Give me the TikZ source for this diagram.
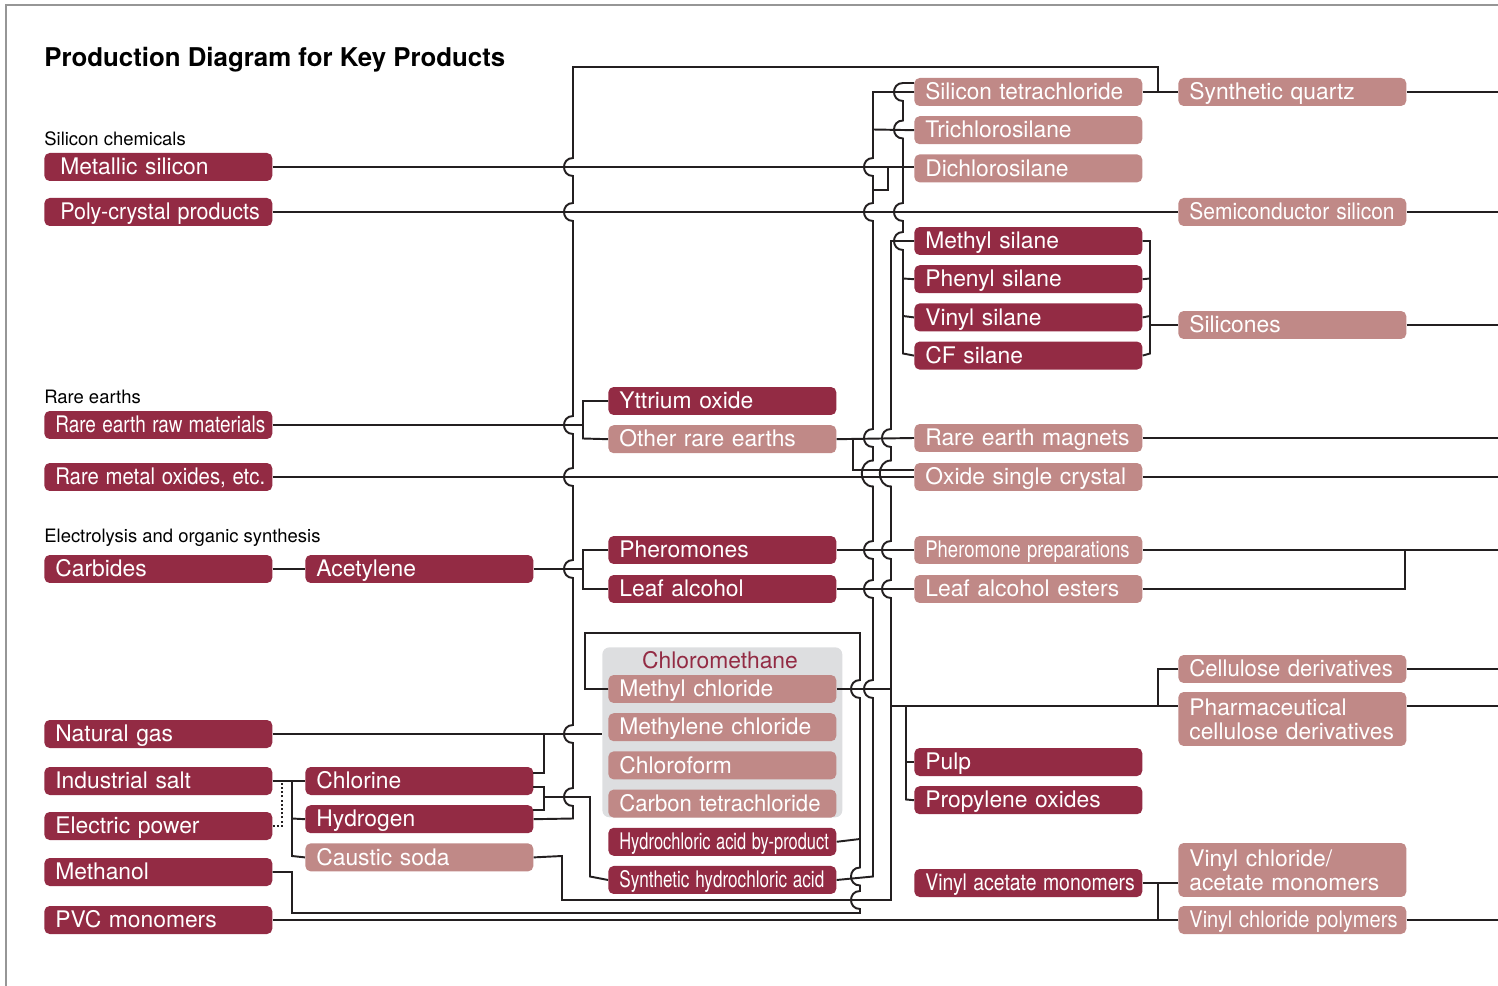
\documentclass[tikz,border=0pt]{standalone}
\usepackage{fontspec}
\setmainfont{TeX Gyre Heros}
\usetikzlibrary{positioning}
\definecolor{prodred}{RGB}{147,43,68}
\definecolor{prodpink}{RGB}{192,137,135}
\definecolor{groupgrey}{RGB}{221,222,224}
\definecolor{wirecol}{RGB}{35,31,32}
\definecolor{framegrey}{RGB}{150,150,150}
\tikzstyle{prodbase} = [rectangle, rounded corners=3pt, anchor=west, inner xsep=0.22cm, inner ysep=0pt, text width=4.12cm, align=left, fill=prodred, text=white, font=\fontsize{13}{13.6}\selectfont]
\tikzstyle{prod}     = [prodbase, minimum height=0.56cm, text height=9.4pt, text depth=0.6pt]
\tikzstyle{prodtall} = [prodbase, minimum height=1.08cm]
\tikzstyle{pale}     = [fill=prodpink]
\tikzstyle{group}    = [rectangle, rounded corners=4pt, fill=groupgrey, anchor=north west, minimum width=4.8cm, minimum height=3.4cm]
\tikzstyle{sect}     = [anchor=west, inner sep=0pt, font=\fontsize{10.5}{12}\selectfont]
\tikzstyle{wire}     = [draw=wirecol, line width=1.1pt]
\newcommand{\narrow}[2]{\scalebox{#1}[1]{#2}}
% vertical wire jumping over a crossing line
\newcommand{\hopup}[2]{-- (#1,{#2+9}) .. controls ({#1-12},{#2+9}) and ({#1-12},{#2-9}) .. (#1,{#2-9})}
\newcommand{\hopdown}[2]{-- (#1,{#2-9}) .. controls ({#1-12},{#2-9}) and ({#1-12},{#2+9}) .. (#1,{#2+9})}
\newcommand{\bighopup}[2]{-- (#1,{#2+13}) .. controls ({#1-15},{#2+13}) and ({#1-15},{#2-13}) .. (#1,{#2-13})}

\begin{document}
\begin{tikzpicture}[x=0.02cm, y=-0.02cm]
  \useasboundingbox (0,0) rectangle (1498,986);
  \draw[framegrey, line width=0.9pt] (6,986) -- (6,5) -- (1498,5);
  \coordinate (edge) at (1498,0);
  \coordinate (cellrow) at (0,706);

  % Headings
  \node[anchor=west, inner sep=0pt, font=\fontsize{14.7}{16}\selectfont\bfseries] (title) at (44,60) {Production Diagram for Key Products};
  \node[sect] (silhead) at (44,139) {Silicon chemicals};
  \node[sect] (rarehead) at (44,397) {Rare earths};
  \node[sect] (elechead) at (44,538) {Electrolysis and organic synthesis};

  % Raw materials
  \node[prod] (msi)   at (44,167) {\hspace*{0.1cm}Metallic silicon};
  \node[prod] (poly)  at (44,212) {\hspace*{0.1cm}\narrow{0.94}{Poly-crystal products}};
  \node[prod] (rawre) at (44,425) {\narrow{0.83}{Rare earth raw materials}};
  \node[prod] (rmo)   at (44,477) {\narrow{0.89}{Rare metal oxides, etc.}};
  \node[prod] (carb)  at (44,569) {Carbides};
  \node[prod] (ngas)  at (44,734) {Natural gas};
  \node[prod] (salt)  at (44,781) {Industrial salt};
  \node[prod] (epow)  at (44,826) {Electric power};
  \node[prod] (meoh)  at (44,872) {Methanol};
  \node[prod] (pvcm)  at (44,920) {PVC monomers};

  % Intermediates
  \node[prod] (acet)  at (305,569) {Acetylene};
  \node[prod] (chlor) at (305,781) {Chlorine};
  \node[prod, below=0.19cm of chlor] (hydro) {Hydrogen};
  \node[prod, pale, below=0.19cm of hydro] (caus) {Caustic soda};

  \node[prod] (ytt) at (608,401) {Yttrium oxide};
  \node[prod, pale, below=0.19cm of ytt] (ore) {Other rare earths};
  \node[prod] (pher) at (608,550) {Pheromones};
  \node[prod] (leaf) at (608,589) {Leaf alcohol};

  \node[group] (cmgrp) at (602,647) {};
  \node[inner sep=0pt, text=prodred, font=\fontsize{13}{14}\selectfont] (cmlab) at (720,660) {Chloromethane};
  \node[prod, pale] (mecl) at (608,689) {Methyl chloride};
  \node[prod, pale, below=0.19cm of mecl] (mdcl) {Methylene chloride};
  \node[prod, pale, below=0.19cm of mdcl] (chcl) {Chloroform};
  \node[prod, pale, below=0.19cm of chcl] (ccl4) {\narrow{0.97}{Carbon tetrachloride}};
  \node[prod, below=0.19cm of ccl4] (hclb) {\narrow{0.72}{Hydrochloric acid by-product}};
  \node[prod, below=0.19cm of hclb] (shcl) {\narrow{0.75}{Synthetic hydrochloric acid}};

  % Products
  \node[prod, pale] (sitet) at (914,92) {\narrow{0.99}{Silicon tetrachloride}};
  \node[prod, pale, below=0.19cm of sitet] (tcs) {Trichlorosilane};
  \node[prod, pale, below=0.19cm of tcs] (dcs) {Dichlorosilane};
  \node[prod] (mesil) at (914,241) {Methyl silane};
  \node[prod, below=0.19cm of mesil] (phsil) {Phenyl silane};
  \node[prod, below=0.19cm of phsil] (visil) {Vinyl silane};
  \node[prod, below=0.19cm of visil] (cfsil) {CF silane};
  \node[prod, pale] (remag)  at (914,438) {Rare earth magnets};
  \node[prod, pale] (oxsc)   at (914,477) {Oxide single crystal};
  \node[prod, pale] (phprep) at (914,550) {\narrow{0.81}{Pheromone preparations}};
  \node[prod, pale] (laest)  at (914,589) {Leaf alcohol esters};
  \node[prod] (pulp) at (914,762) {Pulp};
  \node[prod, below=0.19cm of pulp] (propox) {Propylene oxides};
  \node[prod] (vam) at (914,883) {\narrow{0.85}{Vinyl acetate monomers}};

  \node[prod, pale] (squartz) at (1178,92)  {Synthetic quartz};
  \node[prod, pale] (semisi)  at (1178,212) {\narrow{0.92}{Semiconductor silicon}};
  \node[prod, pale] (silic)   at (1178,325) {Silicones};
  \node[prod, pale] (celd)    at (1178,669) {\narrow{0.97}{Cellulose derivatives}};
  \node[prodtall, pale] (pcel) at (1178,719) {Pharmaceutical\\cellulose derivatives};
  \node[prodtall, pale] (vcam) at (1178,870) {Vinyl chloride/\\acetate monomers};
  \node[prod, pale] (vcp)     at (1178,920) {\narrow{0.88}{Vinyl chloride polymers}};

  % Silicon lines
  \draw[wire] (hydro.east) -- (573,818.5) \hopup{573}{797} \hopup{573}{734} \hopup{573}{569} \hopup{573}{477} \hopup{573}{425} \hopup{573}{212} \hopup{573}{167} -- (573,67) -- (1158,67) -- (1158,92);
  \draw[wire] (sitet.east) -- (squartz.west);
  \draw[wire] (msi.east) -- (msi.east -| dcs.west);
  \draw[wire] (poly.east) -- (poly.east -| semisi.west);
  \draw[wire] (shcl.east) -- (873,876.5) \hopup{873}{689} \hopup{873}{589} \hopup{873}{550} \bighopup{873}{473.5} \hopup{873}{438} \hopup{873}{212} \hopup{873}{167} -- (873,92) -- (sitet.west);
  \draw[wire] (873,129.5) -- (tcs.west);
  \draw[wire] (873,190) -- (888,190) -- (888,167);
  \draw[wire] (903,167) \hopup{903}{129.5} \hopup{903}{92} -- (903,83) -- (914,83);
  \draw[wire] (903,167) \hopdown{903}{212} \hopdown{903}{241} -- (903,353.5) -- (cfsil.west);
  \draw[wire] (903,278.5) -- (phsil.west);
  \draw[wire] (903,316) -- (visil.west);
  \draw[wire] (mesil.east) -- (1150,241) -- (1150,353.5) -- (cfsil.east);
  \draw[wire] (phsil.east) -- (1150,278.5);
  \draw[wire] (visil.east) -- (1150,316);
  \draw[wire] (1150,325) -- (silic.west);

  % Rare earth lines
  \draw[wire] (rawre.east) -- (583,425);
  \draw[wire] (ytt.west) -- (583,401) -- (583,438.5) -- (ore.west);
  \draw[wire] (ore.east) -- (remag.west);
  \draw[wire] (853,438.5) -- (853,470) -- (914,470);
  \draw[wire] (rmo.east) -- (oxsc.west);

  % Acetylene lines
  \draw[wire] (carb.east) -- (acet.west);
  \draw[wire] (acet.east) -- (583,569);
  \draw[wire] (pher.west) -- (583,550) -- (583,589) -- (leaf.west);
  \draw[wire] (pher.east) -- (phprep.west);
  \draw[wire] (leaf.east) -- (laest.west);
  \draw[wire] (laest.east) -- (1405,589) -- (1405,550);

  % Electrolysis lines
  \draw[wire] (ngas.east) -- (602,734);
  \draw[wire] (salt.east) -- (chlor.west);
  \draw[wire] (292,781) -- (292,856) -- (caus.west);
  \draw[wire] (292,818.5) -- (hydro.west);
  \draw[wire, line width=1pt, dash pattern=on 1.2pt off 1.2pt] (epow.east) -- (282,826) -- (282,781);
  \draw[wire] (533,773) -- (544,773) -- (544,734);
  \draw[wire] (533,787) -- (544,787) -- (544,810) -- (533,810);
  \draw[wire] (544,797) -- (590,797) -- (590,876.5) -- (shcl.west);
  \draw[wire] (meoh.east) -- (292,872) -- (292,913) -- (860,913) \hopup{860}{900} \hopup{860}{876.5} \hopup{860}{689} -- (860,633) -- (585,633) -- (585,689) -- (mecl.west);
  \draw[wire] (hclb.east) -- (860,839);
  \draw[wire] (caus.east) -- (562,856) -- (562,900) -- (891,900) -- (891,689) \hopup{891}{589} \hopup{891}{550} \bighopup{891}{473.5} \hopup{891}{438} -- (891,241) -- (mesil.west);
  \draw[wire] (mecl.east) -- (891,689);
  \draw[wire] (891,706) -- (pcel.west |- cellrow);
  \draw[wire] (1158,706) -- (1158,669) -- (celd.west);
  \draw[wire] (906,706) -- (906,799.5) -- (propox.west);
  \draw[wire] (906,762) -- (pulp.west);
  \draw[wire] (vam.east) -- (1178,883);
  \draw[wire] (1158,883) -- (1158,920);
  \draw[wire] (pvcm.east) -- (vcp.west);

  % Onward lines
  \foreach \n in {squartz,semisi,silic,remag,oxsc,phprep,celd,vcp}
    \draw[wire] (\n.east) -- (\n.east -| edge);
  \draw[wire] (pcel.east |- cellrow) -- (edge |- cellrow);
\end{tikzpicture}
\end{document}
